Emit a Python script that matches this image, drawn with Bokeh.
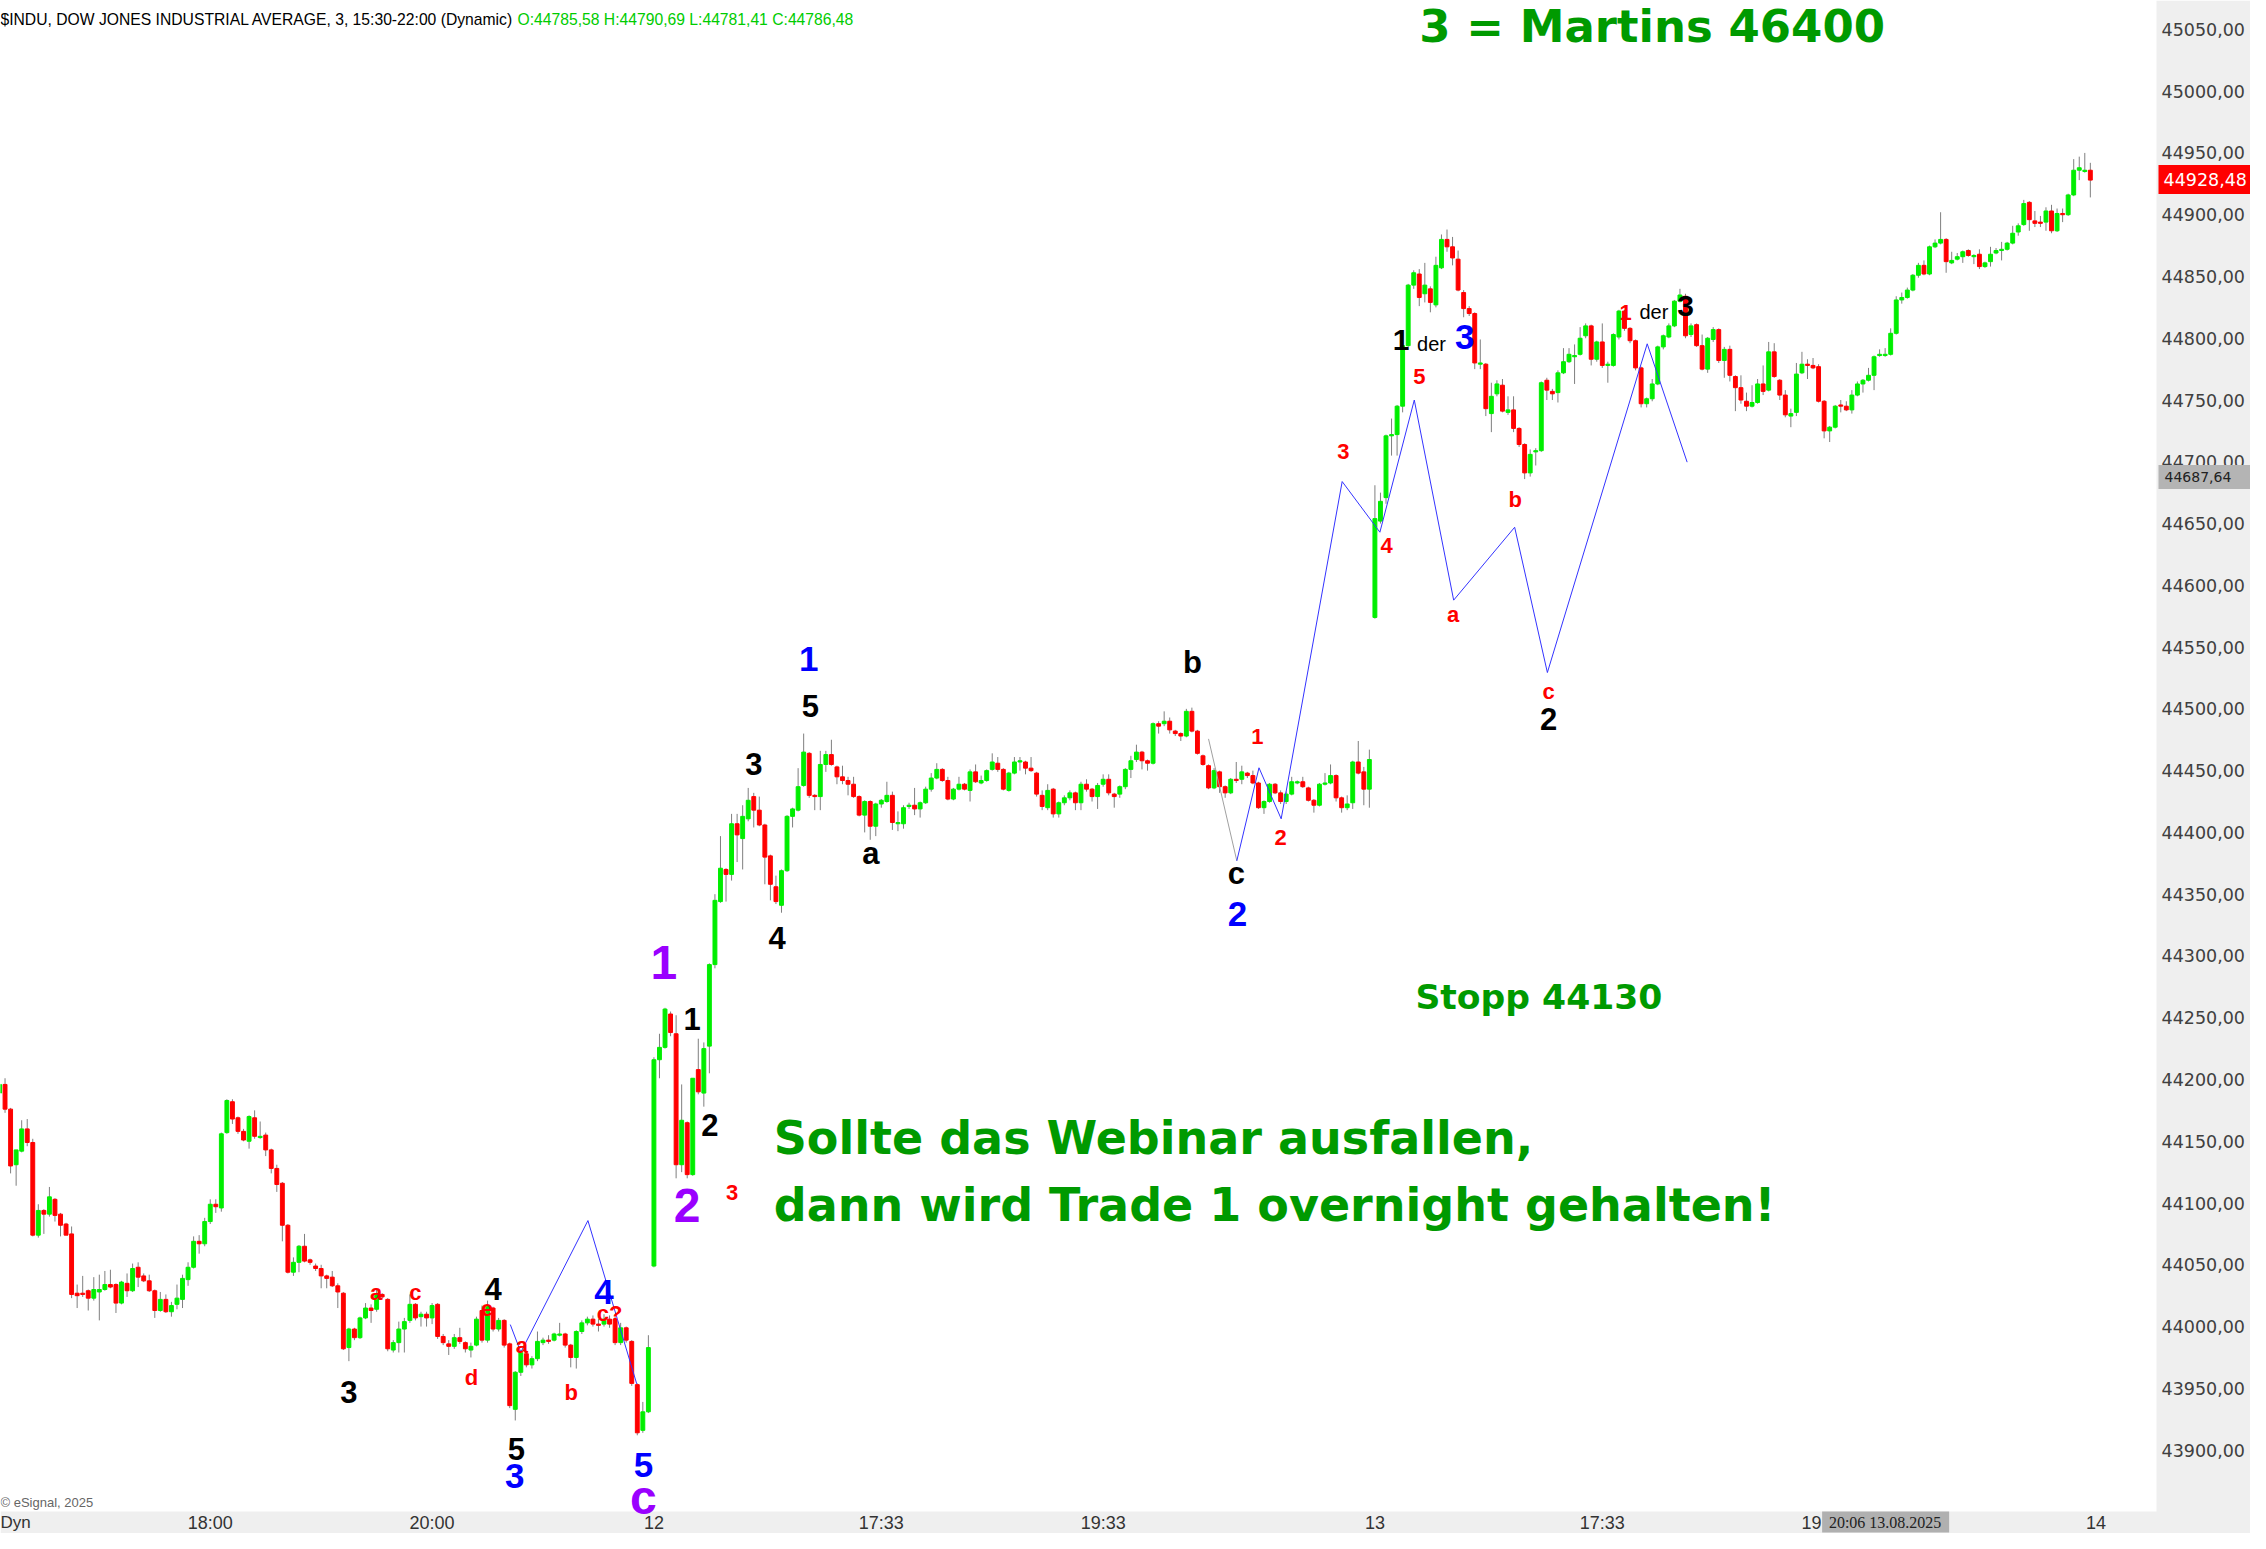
from bokeh.plotting import figure
from bokeh.models import ColumnDataSource, Label, Range1d
from bokeh.core.properties import value
from bokeh.embed import file_html
from bokeh.resources import INLINE

# ---------------- data (3-minute bars, $INDU) ----------------
# day 11 (from ~16:06 to 22:00)
d11_o = [44189,44196,44176,44131,44142,44160,44149,44074,44094,44091,44103,44091,44083,44075,44027,44027,44029,44023,44028,44030,
         44034,44034,44019,44035,44029,44048,44041,44037,44029,44013,44022,44012,44018,44022,44038,44048,44069,44067,44085,44099,
         44096,44157,44182,44169,44158,44150,44169,44153,44155,44143,44128,44116,44082,44044,44052,44065,44054,44049,44047,44041,
         44040,44033,44027,43983,43998,43991,44007,44015,44014,44026,44022,43981,43987,43998,44005,44018,44008,44010,44007,44018,
         43992,43986,43984,43991,43987,43981,43985,44013,43989,44015,43998,44005,43986,43933,43963,43978,43969,43974,43987,43989,
         43989,43993,43994,43985,43975,43996,44003,44006,44002,44002,44006,44006,43987,43999,43988,43953,43916,43931]
d11_h = [44196,44201,44177,44143,44167,44168,44152,44099,44095,44113,44104,44092,44084,44081,44034,44041,44030,44040,44042,44045,
         44046,44035,44037,44043,44051,44052,44043,44042,44030,44028,44026,44020,44034,44042,44052,44073,44074,44088,44103,44103,
         44157,44184,44184,44170,44160,44171,44175,44166,44157,44144,44131,44117,44083,44056,44066,44075,44055,44051,44050,44042,
         44045,44035,44028,43999,43999,44008,44019,44018,44030,44027,44023,43989,44004,44007,44026,44019,44012,44012,44019,44019,
         43994,43989,43994,43999,43988,43987,44008,44017,44021,44016,44007,44006,43987,43964,43981,43980,43976,43996,43991,43993,
         43995,44003,43995,43986,43997,44005,44008,44009,44006,44010,44009,44008,44003,44000,43989,43954,43939,43993]
d11_l = [44188,44173,44124,44114,44141,44146,44073,44072,44075,44089,44085,44073,44074,44023,44015,44024,44013,44021,44005,44029,
         44031,44011,44018,44024,44028,44032,44036,44028,44007,44012,44011,44008,44014,44015,44033,44047,44059,44065,44083,44092,
         44093,44156,44164,44156,44150,44144,44152,44152,44138,44124,44109,44069,44043,44041,44044,44052,44050,44045,44031,44031,
         44032,44015,43981,43972,43989,43990,44006,44003,44012,44022,43980,43979,43979,43979,44003,44005,44000,44000,44002,43990,
         43985,43977,43982,43986,43979,43975,43984,43987,43987,43996,43996,43983,43934,43924,43960,43967,43966,43972,43985,43986,
         43988,43992,43983,43967,43966,43994,44001,44000,43996,44000,43999,43985,43985,43987,43952,43912,43914,43930]
d11_c = [44196,44176,44130,44143,44160,44149,44074,44094,44091,44105,44090,44082,44074,44026,44025,44026,44023,44030,44030,44034,
         44032,44019,44036,44029,44047,44040,44037,44029,44013,44022,44012,44017,44023,44039,44048,44069,44067,44085,44099,44097,
         44156,44183,44168,44158,44151,44170,44154,44154,44143,44128,44115,44082,44044,44052,44065,44053,44052,44047,44041,44039,
         44033,44028,43982,43998,43991,44007,44015,44013,44026,44024,43982,43987,43998,44004,44018,44007,44010,44007,44017,43992,
         43987,43984,43991,43988,43982,43984,44006,43989,44017,43998,44005,43985,43936,43963,43979,43969,43974,43988,43989,43988,
         43994,43994,43985,43975,43996,44003,44006,44002,44001,44006,44002,43987,43999,43989,43954,43914,43931,43983]

# day 12 (15:30 - 22:00)
d12_o = [44049,44216,44226,44253,44237,44131,44165,44123,44208,44189,44227,44293,44344,44370,44366,44407,44395,44411,44429,44418,
         44406,44381,44356,44341,44369,44413,44418,44438,44464,44430,44429,44455,44463,44453,44445,44442,44439,44429,44414,44425,
         44405,44423,44425,44430,44407,44407,44421,44422,44419,44424,44435,44444,44451,44442,44427,44435,44439,44434,44449,44440,
         44442,44451,44456,44451,44434,44448,44457,44457,44452,44448,44430,44420,44435,44415,44424,44428,44432,44424,44439,44435,
         44429,44439,44443,44431,44431,44437,44451,44459,44465,44458,44456,44488,44488,44490,44482,44480,44478,44498,44482,44462,
         44454,44436,44449,44437,44432,44443,44443,44448,44446,44440,44420,44425,44439,44432,44425,44431,44440,44441,44436,44426,
         44422,44439,44440,44446,44428,44420,44424,44457,44449,44435]
d12_h = [44218,44237,44258,44255,44252,44196,44166,44201,44233,44230,44294,44350,44397,44371,44415,44415,44422,44436,44432,44429,
         44407,44382,44365,44370,44414,44420,44452,44480,44465,44431,44466,44466,44475,44454,44454,44445,44445,44430,44426,44426,
         44424,44427,44441,44433,44417,44422,44424,44436,44425,44437,44448,44456,44452,44445,44436,44445,44440,44451,44455,44446,
         44451,44464,44461,44452,44449,44461,44461,44458,44461,44449,44434,44439,44436,44425,44430,44434,44433,44441,44443,44436,
         44440,44447,44447,44432,44438,44452,44462,44471,44466,44459,44489,44490,44498,44493,44483,44481,44500,44501,44483,44463,
         44455,44452,44450,44438,44444,44457,44454,44449,44450,44441,44426,44440,44440,44434,44433,44445,44442,44445,44437,44427,
         44440,44448,44455,44447,44429,44430,44458,44474,44453,44467]
d12_l = [44048,44201,44225,44235,44120,44125,44120,44122,44188,44178,44205,44290,44343,44344,44361,44376,44370,44409,44404,44405,
         44358,44345,44342,44335,44368,44404,44417,44437,44428,44418,44418,44449,44454,44439,44439,44430,44428,44413,44400,44394,
         44397,44420,44424,44402,44401,44403,44419,44414,44412,44423,44433,44443,44441,44426,44426,44434,44434,44425,44440,44439,
         44441,44450,44449,44434,44433,44447,44450,44447,44449,44429,44418,44418,44412,44412,44422,44426,44418,44418,44433,44425,
         44419,44437,44430,44420,44428,44435,44444,44457,44451,44450,44455,44480,44486,44480,44478,44474,44477,44481,44463,44454,
         44435,44435,44432,44428,44431,44440,44439,44444,44439,44419,44415,44424,44431,44423,44423,44430,44439,44436,44425,44416,
         44421,44438,44439,44425,44416,44418,44419,44447,44422,44420]
d12_c = [44216,44226,44257,44238,44131,44167,44123,44201,44190,44225,44293,44345,44371,44366,44407,44398,44413,44426,44418,44406,
         44380,44358,44344,44369,44413,44419,44437,44465,44430,44429,44455,44463,44455,44445,44442,44439,44429,44414,44425,44405,
         44423,44426,44430,44408,44408,44420,44422,44419,44424,44435,44444,44451,44442,44427,44435,44439,44435,44449,44441,44442,
         44450,44457,44451,44435,44448,44457,44458,44452,44450,44431,44421,44434,44415,44424,44428,44432,44424,44439,44435,44429,
         44438,44443,44432,44429,44437,44451,44458,44465,44458,44456,44488,44486,44490,44483,44480,44478,44498,44482,44464,44455,
         44436,44450,44437,44432,44443,44442,44449,44446,44440,44420,44425,44439,44432,44425,44431,44441,44441,44437,44426,44422,
         44439,44440,44446,44428,44420,44423,44457,44448,44435,44459]

# day 13 (15:30 - 22:00)
d13_o = [44574,44652,44671,44721,44722,44745,44794,44843,44852,44836,44840,44827,44857,44880,44874,44864,44837,44824,44820,44779,
         44779,44739,44755,44762,44740,44742,44727,44714,44691,44708,44709,44766,44757,44756,44772,44781,44785,44787,44802,44810,
         44783,44797,44778,44778,44801,44822,44808,44798,44776,44747,44751,44763,44793,44801,44810,44830,44834,44803,44811,44794,
         44775,44799,44807,44782,44791,44769,44760,44749,44745,44748,44763,44758,44789,44766,44754,44737,44740,44772,44779,44778,
         44777,44749,44725,44728,44746,44745,44742,44754,44763,44766,44770,44786,44786,44787,44804,44831,44833,44839,44851,44859,
         44852,44874,44877,44880,44861,44864,44866,44871,44866,44868,44858,44862,44869,44871,44872,44877,44886,44892,44910,44895,
         44894,44894,44903,44887,44901,44900,44916,44936,44935,44936]
d13_h = [44681,44675,44722,44735,44746,44795,44844,44855,44856,44861,44842,44866,44884,44888,44882,44871,44839,44826,44821,44799,
         44780,44764,44766,44767,44753,44753,44728,44715,44710,44711,44765,44768,44759,44774,44792,44792,44795,44809,44812,44811,
         44798,44812,44781,44804,44823,44823,44809,44799,44777,44752,44767,44794,44803,44812,44831,44840,44836,44812,44812,44803,
         44801,44809,44808,44793,44794,44770,44770,44756,44762,44767,44778,44797,44796,44767,44758,44743,44780,44789,44783,44784,
         44779,44750,44729,44746,44750,44749,44758,44765,44767,44776,44786,44791,44792,44808,44834,44837,44841,44852,44861,44863,
         44875,44880,44902,44881,44870,44869,44871,44872,44868,44872,44862,44874,44873,44878,44878,44891,44893,44912,44911,44903,
         44899,44906,44908,44905,44905,44917,44945,44947,44950,44942]
d13_l = [44573,44650,44666,44705,44705,44740,44793,44840,44826,44829,44821,44825,44856,44870,44859,44838,44817,44818,44775,44775,
         44737,44724,44753,44740,44738,44724,44712,44686,44688,44697,44708,44750,44750,44748,44771,44780,44763,44786,44800,44778,
         44781,44776,44764,44777,44799,44806,44796,44774,44744,44744,44749,44762,44791,44800,44809,44829,44800,44801,44793,44774,
         44772,44797,44780,44768,44765,44741,44747,44741,44744,44747,44754,44757,44768,44750,44736,44728,44737,44771,44767,44775,
         44748,44719,44716,44727,44740,44741,44739,44753,44756,44765,44758,44785,44785,44786,44803,44828,44832,44838,44849,44851,
         44851,44873,44876,44853,44860,44863,44861,44866,44860,44856,44857,44858,44868,44863,44871,44876,44883,44891,44887,44890,
         44890,44887,44885,44886,44894,44899,44915,44928,44934,44914]
d13_c = [44654,44668,44721,44722,44745,44794,44843,44853,44833,44843,44829,44859,44880,44874,44865,44839,44824,44820,44780,44780,
         44743,44753,44763,44741,44742,44727,44714,44691,44706,44709,44764,44758,44755,44772,44781,44787,44786,44800,44810,44783,
         44797,44778,44779,44803,44822,44808,44798,44776,44747,44751,44763,44793,44802,44810,44830,44835,44802,44810,44794,44775,
         44800,44807,44782,44791,44770,44760,44750,44745,44748,44763,44757,44789,44769,44754,44738,44739,44771,44779,44778,44776,
         44749,44725,44728,44745,44745,44742,44754,44763,44766,44770,44785,44787,44787,44804,44831,44833,44839,44851,44859,44852,
         44874,44877,44880,44862,44863,44866,44870,44867,44867,44858,44861,44868,44871,44872,44877,44885,44891,44909,44896,44893,
         44893,44903,44887,44901,44900,44916,44936,44938,44936,44928]

# axis ticks
x_tick_bars = [38, 78, 118, 159, 199, 248, 289, 329, 378]
x_tick_labels = ["18:00", "20:00", "12", "17:33", "19:33", "13", "17:33", "19:33", "14"]
y_tick_values = [43900, 43950, 44000, 44050, 44100, 44150, 44200, 44250, 44300, 44350, 44400, 44450,
                 44500, 44550, 44600, 44650, 44700, 44750, 44800, 44850, 44900, 44950, 45000, 45050]
y_tick_labels = ["43900,00", "43950,00", "44000,00", "44050,00", "44100,00", "44150,00", "44200,00", "44250,00",
                 "44300,00", "44350,00", "44400,00", "44450,00", "44500,00", "44550,00", "44600,00", "44650,00",
                 "44700,00", "44750,00", "44800,00", "44850,00", "44900,00", "44950,00", "45000,00", "45050,00"]

last_price = 44928.48
last_label = "44928,48"
marker_price = 44687.64
marker_label = "44687,64"
cursor_bar = 340
cursor_label = "20:06 13.08.2025"

# Elliott-wave count lines (bar index, price)
wave11_x = [92.1, 94.0, 106.1, 114.9]
wave11_y = [44001.6, 43979.2, 44085.8, 43953.6]
wave_grey_x = [218.0, 223.1]
wave_grey_y = [44475.7, 44377.0]
wave12_x = [223.1, 227.1, 231.1, 242.1, 248.9, 255.1, 262.2, 273.2, 279.1, 297.1, 304.3]
wave12_y = [44377.0, 44452.3, 44411.0, 44684.0, 44643.0, 44750.0, 44588.0, 44647.0, 44529.4, 44795.5, 44699.7]

# ---------------- build ----------------
o = d11_o + d12_o + d13_o
h = d11_h + d12_h + d13_h
l = d11_l + d12_l + d13_l
c = d11_c + d12_c + d13_c
idx = list(range(len(o)))
GREEN, RED = "#00ee00", "#ff0000"
col = [GREEN if cc >= oo else RED for oo, cc in zip(o, c)]
src = ColumnDataSource(dict(x=idx, o=o, h=h, l=l, c=c,
                            top=[max(a, b) for a, b in zip(o, c)],
                            bot=[min(a, b) for a, b in zip(o, c)], col=col))

W, H = 2250, 1533
PX_PER_BAR = 5.546          # horizontal scale
PX_PER_PT = 1.2354          # vertical scale
X_START = 1 / PX_PER_BAR
X_END = X_START + W / PX_PER_BAR
Y_TOP = 45073.39
Y_BOT = Y_TOP - H / PX_PER_PT
AX_L = X_START + 2156 / PX_PER_BAR        # start of price-axis panel
BAND_TOP = Y_TOP - 1511 / PX_PER_PT       # top of time-axis band
TIME_Y = Y_TOP - 1522 / PX_PER_PT         # row of time labels


def dy(px):
    return px / PX_PER_PT


def dx(px):
    return px / PX_PER_BAR


p = figure(frame_width=W, frame_height=H, x_range=Range1d(X_START, X_END),
           y_range=Range1d(Y_BOT, Y_TOP), output_backend="svg", toolbar_location=None,
           title=None, min_border_left=0, min_border_top=0, min_border_right=0, min_border_bottom=0)
p.background_fill_color = "white"
p.border_fill_color = "white"
p.outline_line_color = None
p.grid.visible = False
p.xaxis.visible = False
p.yaxis.visible = False

# candles
p.segment(x0="x", x1="x", y0="l", y1="h", source=src, line_color="#7f7f7f", line_width=1)
p.vbar(x="x", width=0.7, top="top", bottom="bot", source=src, fill_color="col", line_color="col", line_width=1)

# wave lines
p.line(wave11_x, wave11_y, line_color="#3333ff", line_width=1)
p.line(wave_grey_x, wave_grey_y, line_color="#a0a0a0", line_width=1)
p.line(wave12_x, wave12_y, line_color="#3333ff", line_width=1)

# wave labels: text, bar, price, colour, size, bold
RED_T, BLK, BLU, PUR = "#ff0000", "#000000", "#0000ff", "#9a00ff"
wave_labels = [
    ("a", 67.9, 44027.5, RED_T, 22, True), ("c", 75.0, 44027.5, RED_T, 22, True),
    ("4", 89.0, 44030.8, BLK, 31, True), ("e", 87.9, 44014.6, RED_T, 22, True),
    ("a", 94.2, 43984.6, RED_T, 22, True), ("4", 109.0, 44028.3, BLU, 35, True),
    ("c?", 110.0, 44010.5, RED_T, 22, True), ("3", 63.0, 43946.8, BLK, 31, True),
    ("d", 85.1, 43958.5, RED_T, 22, True), ("b", 103.1, 43946.8, RED_T, 22, True),
    ("5", 93.2, 43901.2, BLK, 31, True), ("3", 92.9, 43879.0, BLU, 35, True),
    ("5", 116.1, 43888.3, BLU, 35, True), ("c", 116.1, 43861.6, PUR, 48, True),
    ("1", 119.8, 44294.9, PUR, 48, True), ("1", 124.9, 44249.1, BLK, 31, True),
    ("2", 128.1, 44163.4, BLK, 31, True), ("2", 124.0, 44097.6, PUR, 48, True),
    ("3", 132.1, 44108.5, RED_T, 22, True), ("3", 136.0, 44455.1, BLK, 31, True),
    ("5", 146.2, 44502.1, BLK, 31, True), ("1", 145.9, 44540.1, BLU, 35, True),
    ("4", 140.2, 44314.9, BLK, 31, True), ("a", 157.1, 44383.1, BLK, 31, True),
    ("b", 215.1, 44537.5, BLK, 31, True), ("c", 223.0, 44366.7, BLK, 31, True),
    ("2", 223.2, 44334.3, BLU, 35, True), ("1", 226.8, 44477.9, RED_T, 22, True),
    ("2", 231.0, 44396.0, RED_T, 22, True), ("3", 242.3, 44708.3, RED_T, 22, True),
    ("4", 250.1, 44632.2, RED_T, 22, True), ("5", 256.0, 44769.3, RED_T, 22, True),
    ("1", 252.7, 44798.5, BLK, 30, True), ("der", 258.2, 44795.4, BLK, 20, False),
    ("3", 264.2, 44800.8, BLU, 35, True), ("a", 262.1, 44576.2, RED_T, 22, True),
    ("b", 273.3, 44669.8, RED_T, 22, True), ("c", 279.3, 44514.2, RED_T, 22, True),
    ("2", 279.3, 44491.9, BLK, 31, True), ("1", 293.2, 44821.0, RED_T, 22, True),
    ("der", 298.3, 44821.6, BLK, 20, False), ("3", 304.0, 44826.5, BLK, 30, True),
]
for t, xi, yi, cl, sz, bold in wave_labels:
    p.add_layout(Label(x=xi, y=yi, text=t, text_color=cl, text_font="Liberation Sans",
                       text_font_size=f"{sz}px", text_font_style="bold" if bold else "normal",
                       text_align="center", text_baseline="middle"))

GRN = "#009a00"
notes = [
    ("3 = Martins 46400", 298.0, 45052.0, 45, "center"),
    ("Sollte das Webinar ausfallen,", 139.6, 44153.0, 46, "left"),
    ("dann wird Trade 1 overnight gehalten!", 139.6, 44098.8, 46, "left"),
    ("Stopp 44130", 255.3, 44267.1, 34.6, "left"),
]
for t, xi, yi, sz, al in notes:
    p.add_layout(Label(x=xi, y=yi, text=t, text_color=GRN, text_font="DejaVu Sans",
                       text_font_size=f"{sz}px", text_font_style="bold",
                       text_align=al, text_baseline="middle"))

# header
p.add_layout(Label(x=92.7, y=45058.0, text="$INDU, DOW JONES INDUSTRIAL AVERAGE, 3, 15:30-22:00 (Dynamic)",
                   text_color="#000000", text_font="Liberation Sans", text_font_size="15.7px",
                   text_align="right", text_baseline="middle"))
p.add_layout(Label(x=93.4, y=45058.0, text="O:44785,58 H:44790,69 L:44781,41 C:44786,48",
                   text_color="#00cc00", text_font="Liberation Sans", text_font_size="15.7px",
                   text_align="left", text_baseline="middle"))
p.add_layout(Label(x=X_START, y=43857.5, text="© eSignal, 2025", text_color="#666666",
                   text_font="Liberation Sans", text_font_size="13px",
                   text_align="left", text_baseline="middle"))

# ---- axis panels (drawn through the plot's own scales) ----
p.quad(left=[AX_L], right=[X_END], bottom=[Y_BOT], top=[Y_TOP], fill_color="#efefef", line_color=None)
p.quad(left=[X_START], right=[X_END], bottom=[Y_BOT], top=[BAND_TOP], fill_color="#efefef", line_color=None)

# price axis labels
p.text(x=[AX_L + dx(5)] * len(y_tick_values), y=y_tick_values, text=y_tick_labels,
       text_font=value("DejaVu Sans"), text_font_size="17.5px", text_color="#404040",
       text_align="left", text_baseline="middle")
# time axis labels
p.text(x=x_tick_bars, y=[TIME_Y] * len(x_tick_bars), text=x_tick_labels,
       text_font=value("Liberation Sans"), text_font_size="18px", text_color="#333333",
       text_align="center", text_baseline="middle")
p.text(x=[X_START], y=[TIME_Y], text=["Dyn"], text_font=value("Liberation Sans"),
       text_font_size="17px", text_color="#333333", text_align="left", text_baseline="middle")

# last-price tag
p.quad(left=[AX_L + dx(2)], right=[X_END], bottom=[last_price - dy(14.5)], top=[last_price + dy(14.5)],
       fill_color="#ff0000", line_color=None)
p.text(x=[AX_L + dx(7)], y=[last_price], text=[last_label], text_font=value("DejaVu Sans"),
       text_font_size="17.5px", text_color="white", text_align="left", text_baseline="middle")
# marker tag
p.quad(left=[AX_L + dx(2)], right=[X_END], bottom=[marker_price - dy(12)], top=[marker_price + dy(12)],
       fill_color="#b4b4b4", line_color=None)
p.text(x=[AX_L + dx(8)], y=[marker_price], text=[marker_label], text_font=value("DejaVu Sans"),
       text_font_size="14px", text_color="#222222", text_align="left", text_baseline="middle")
# cursor time tag
p.quad(left=[cursor_bar - dx(63)], right=[cursor_bar + dx(64)], bottom=[TIME_Y - dy(10)], top=[TIME_Y + dy(11)],
       fill_color="#b0b0b0", line_color=None)
p.text(x=[cursor_bar], y=[TIME_Y], text=[cursor_label], text_font=value("Liberation Sans Narrow"),
       text_font_size="16px", text_color="#222222", text_align="center", text_baseline="middle")

open("out.html", "w").write(file_html(p, INLINE))
